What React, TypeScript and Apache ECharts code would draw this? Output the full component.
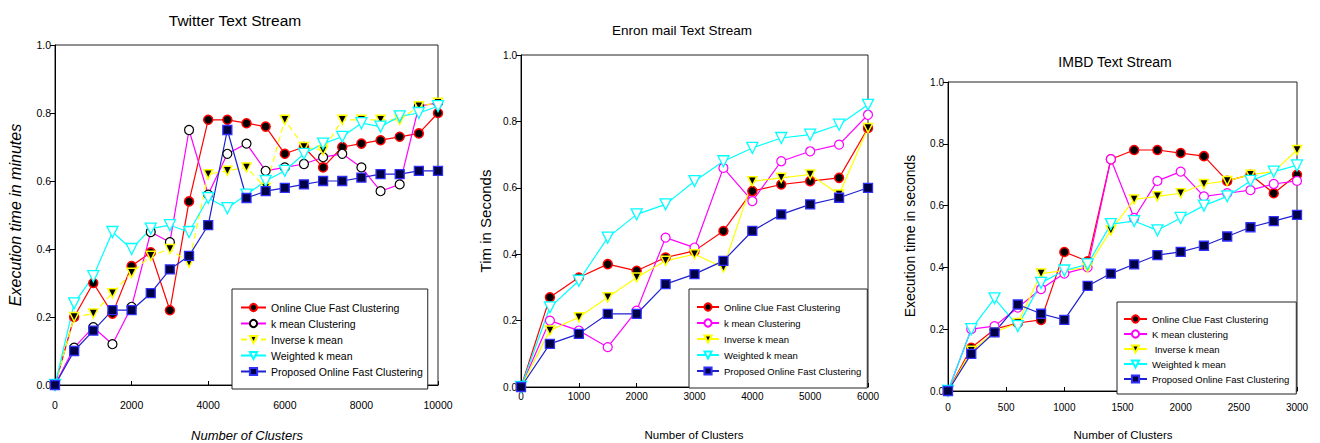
import React, { useEffect, useRef } from "react";
import * as echarts from "echarts";

// ---------- DATA ----------
const NAMES_A = [
  "Online Clue Fast Clustering",
  "k mean Clustering",
  "Inverse k mean",
  "Weighted k mean",
  "Proposed Online Fast Clustering",
];
const NAMES_C = [
  "Online Clue Fast Clustering",
  "K mean clustering",
  " Inverse k mean",
  "Weighted k mean",
  "Proposed Online Fast Clustering",
];

// Twitter
const twitterX = [0, 500, 1000, 1500, 2000, 2500, 3000, 3500, 4000, 4500, 5000, 5500, 6000, 6500, 7000, 7500, 8000, 8500, 9000, 9500, 10000];
const twitterOnlineClue = [0, 0.2, 0.3, 0.21, 0.35, 0.39, 0.22, 0.54, 0.78, 0.78, 0.77, 0.76, 0.68, 0.7, 0.64, 0.7, 0.71, 0.72, 0.73, 0.74, 0.8];
const twitterKMean = [0, 0.11, 0.17, 0.12, 0.23, 0.45, 0.42, 0.75, 0.56, 0.68, 0.71, 0.63, 0.64, 0.65, 0.67, 0.68, 0.64, 0.57, 0.59, 0.82, 0.83];
const twitterInverse = [0, 0.2, 0.21, 0.27, 0.33, 0.38, 0.4, 0.36, 0.62, 0.63, 0.64, 0.58, 0.78, 0.7, 0.69, 0.78, 0.78, 0.78, 0.78, 0.82, 0.83];
const twitterWeighted = [0, 0.24, 0.32, 0.45, 0.4, 0.46, 0.47, 0.45, 0.55, 0.52, 0.56, 0.6, 0.63, 0.68, 0.71, 0.73, 0.77, 0.76, 0.79, 0.8, 0.82];
const twitterProposed = [0, 0.1, 0.16, 0.22, 0.22, 0.27, 0.34, 0.38, 0.47, 0.75, 0.55, 0.57, 0.58, 0.59, 0.6, 0.6, 0.61, 0.62, 0.62, 0.63, 0.63];

// Enron
const enronX = [0, 500, 1000, 1500, 2000, 2500, 3000, 3500, 4000, 4500, 5000, 5500, 6000];
const enronOnlineClue = [0, 0.27, 0.33, 0.37, 0.35, 0.39, 0.41, 0.47, 0.59, 0.61, 0.62, 0.63, 0.78];
const enronKMean = [0, 0.2, 0.17, 0.12, 0.23, 0.45, 0.42, 0.66, 0.56, 0.68, 0.71, 0.73, 0.82];
const enronInverse = [0, 0.17, 0.21, 0.27, 0.33, 0.38, 0.4, 0.36, 0.62, 0.63, 0.64, 0.58, 0.78];
const enronWeighted = [0, 0.24, 0.32, 0.45, 0.52, 0.55, 0.62, 0.68, 0.72, 0.75, 0.76, 0.79, 0.85];
const enronProposed = [0, 0.13, 0.16, 0.22, 0.22, 0.31, 0.34, 0.38, 0.47, 0.52, 0.55, 0.57, 0.6];

// IMBD
const imbdX = [0, 200, 400, 600, 800, 1000, 1200, 1400, 1600, 1800, 2000, 2200, 2400, 2600, 2800, 3000];
const imbdOnlineClue = [0, 0.14, 0.2, 0.22, 0.23, 0.45, 0.42, 0.75, 0.78, 0.78, 0.77, 0.76, 0.68, 0.7, 0.64, 0.7];
const imbdKMean = [0, 0.2, 0.21, 0.27, 0.33, 0.38, 0.4, 0.75, 0.56, 0.68, 0.71, 0.63, 0.64, 0.65, 0.67, 0.68];
const imbdInverse = [0, 0.13, 0.19, 0.22, 0.38, 0.39, 0.4, 0.52, 0.62, 0.63, 0.64, 0.67, 0.68, 0.7, 0.71, 0.78];
const imbdWeighted = [0, 0.2, 0.3, 0.21, 0.35, 0.39, 0.41, 0.54, 0.55, 0.52, 0.56, 0.6, 0.63, 0.68, 0.71, 0.73];
const imbdProposed = [0, 0.12, 0.19, 0.28, 0.25, 0.23, 0.34, 0.38, 0.41, 0.44, 0.45, 0.47, 0.5, 0.53, 0.55, 0.57];

const SANS = "'Liberation Sans', Arial, Helvetica, sans-serif";

type Cfg = {
  left: number;
  width: number;
  title: string;
  titleX: number;
  titleY: number;
  titleSize: number;
  grid: { left: number; top: number; width: number; height: number };
  xMax: number;
  xInterval: number;
  xLabelMargin: number;
  tickFont: number;
  xName: string;
  xNameX: number;
  xNameY: number;
  xNameSize: number;
  yName: string;
  yNameX: number;
  yNameY: number;
  yNameSize: number;
  italic: boolean;
  names: string[];
  x: number[];
  ys: number[][];
  kMeanEdge: string;
  inverseDashed: boolean;
  legend: { left: number; top: number; padding: number[]; fontSize: number; lineHeight: number; itemGap: number; itemWidth: number };
};

function buildOption(c: Cfg): any {
  const pairs = (ys: number[]) => c.x.map((xv, i) => [xv, ys[i]]);
  const base = { type: "line", clip: false, showSymbol: true };
  const series = [
    {
      ...base,
      name: c.names[0],
      data: pairs(c.ys[0]),
      symbol: "circle",
      symbolSize: 9,
      itemStyle: { color: "#000000", borderColor: "#ff0000", borderWidth: 1.5 },
      lineStyle: { color: "#ff0000", width: 1.2 },
    },
    {
      ...base,
      name: c.names[1],
      data: pairs(c.ys[1]),
      symbol: "circle",
      symbolSize: 9,
      itemStyle: { color: "#ffffff", borderColor: c.kMeanEdge, borderWidth: 1.2 },
      lineStyle: { color: "#ff00ff", width: 1.2 },
    },
    {
      ...base,
      name: c.names[2],
      data: pairs(c.ys[2]),
      symbol: "triangle",
      symbolRotate: 180,
      symbolSize: 9,
      itemStyle: { color: "#000000", borderColor: "#ffff00", borderWidth: 1.5 },
      lineStyle: { color: "#ffff00", width: 1.2, type: c.inverseDashed ? [6, 4] : "solid" },
    },
    {
      ...base,
      name: c.names[3],
      data: pairs(c.ys[3]),
      symbol: "triangle",
      symbolRotate: 180,
      symbolSize: 11,
      itemStyle: { color: "#ffffff", borderColor: "#00ffff", borderWidth: 1.3 },
      lineStyle: { color: "#00ffff", width: 1.2 },
    },
    {
      ...base,
      name: c.names[4],
      data: pairs(c.ys[4]),
      symbol: "rect",
      symbolSize: 9,
      itemStyle: { color: "#000044", borderColor: "#3030ff", borderWidth: 1.3 },
      lineStyle: { color: "#2020d0", width: 1.2 },
    },
  ];

  const fontStyle = c.italic ? "italic" : "normal";

  return {
    animation: false,
    backgroundColor: "#ffffff",
    grid: {
      left: c.grid.left,
      top: c.grid.top,
      width: c.grid.width,
      height: c.grid.height,
      show: true,
      borderColor: "#222222",
      borderWidth: 1,
      backgroundColor: "transparent",
    },
    xAxis: {
      type: "value",
      min: 0,
      max: c.xMax,
      interval: c.xInterval,
      axisLine: { show: true, lineStyle: { color: "#000", width: 1 } },
      axisTick: { show: true, inside: true, length: 4, lineStyle: { color: "#000" } },
      splitLine: { show: false },
      axisLabel: {
        color: "#000",
        fontFamily: SANS,
        fontSize: c.tickFont,
        margin: c.xLabelMargin,
        formatter: (v: number) => String(v),
      },
    },
    yAxis: {
      type: "value",
      min: 0,
      max: 1,
      interval: 0.2,
      axisLine: { show: true, lineStyle: { color: "#000", width: 1 } },
      axisTick: { show: true, inside: false, length: 5, lineStyle: { color: "#000" } },
      splitLine: { show: false },
      axisLabel: {
        color: "#000",
        fontFamily: SANS,
        fontSize: c.tickFont,
        margin: 4,
        formatter: (v: number) => v.toFixed(1),
      },
    },
    legend: {
      orient: "vertical",
      left: c.legend.left,
      top: c.legend.top,
      padding: c.legend.padding,
      itemGap: c.legend.itemGap,
      itemWidth: c.legend.itemWidth,
      itemHeight: 9,
      backgroundColor: "#ffffff",
      borderColor: "#222222",
      borderWidth: 1,
      borderRadius: 0,
      selectedMode: false,
      textStyle: {
        color: "#000",
        fontFamily: SANS,
        fontSize: c.legend.fontSize,
        lineHeight: c.legend.lineHeight,
      },
      data: c.names,
      z: 10,
    },
    graphic: [
      {
        type: "text",
        x: c.titleX,
        y: c.titleY,
        style: {
          text: c.title,
          fill: "#000",
          font: `normal ${c.titleSize}px ${SANS}`,
          textAlign: "center",
          textVerticalAlign: "middle",
        },
      },
      {
        type: "text",
        x: c.xNameX,
        y: c.xNameY,
        style: {
          text: c.xName,
          fill: "#000",
          font: `${fontStyle} ${c.xNameSize}px ${SANS}`,
          textAlign: "center",
          textVerticalAlign: "middle",
        },
      },
      {
        type: "text",
        x: c.yNameX,
        y: c.yNameY,
        rotation: Math.PI / 2,
        style: {
          text: c.yName,
          fill: "#000",
          font: `${fontStyle} ${c.yNameSize}px ${SANS}`,
          textAlign: "center",
          textVerticalAlign: "middle",
        },
      },
    ],
    series,
  };
}

const CONFIGS: Cfg[] = [
  {
    left: 0,
    width: 460,
    title: "Twitter Text Stream",
    titleX: 235,
    titleY: 20,
    titleSize: 15.5,
    grid: { left: 55, top: 45, width: 383, height: 340 },
    xMax: 10000,
    xInterval: 2000,
    xLabelMargin: 14,
    tickFont: 10.5,
    xName: "Number of Clusters",
    xNameX: 247,
    xNameY: 435,
    xNameSize: 13,
    yName: "Execution time in minutes",
    yNameX: 15,
    yNameY: 215,
    yNameSize: 16,
    italic: true,
    names: NAMES_A,
    x: twitterX,
    ys: [twitterOnlineClue, twitterKMean, twitterInverse, twitterWeighted, twitterProposed],
    kMeanEdge: "#000000",
    inverseDashed: true,
    legend: { left: 232, top: 289, padding: [12, 5, 11, 8], fontSize: 10.5, lineHeight: 13, itemGap: 3, itemWidth: 25 },
  },
  {
    left: 460,
    width: 430,
    title: "Enron mail Text Stream",
    titleX: 222,
    titleY: 30,
    titleSize: 13.5,
    grid: { left: 61, top: 55, width: 347, height: 332 },
    xMax: 6000,
    xInterval: 1000,
    xLabelMargin: 4,
    tickFont: 10,
    xName: "Number of Clusters",
    xNameX: 234,
    xNameY: 435,
    xNameSize: 11.5,
    yName: "Tim in Seconds",
    yNameX: 25,
    yNameY: 221,
    yNameSize: 15,
    italic: false,
    names: NAMES_A,
    x: enronX,
    ys: [enronOnlineClue, enronKMean, enronInverse, enronWeighted, enronProposed],
    kMeanEdge: "#ff00ff",
    inverseDashed: false,
    legend: { left: 229, top: 289, padding: [12, 6, 11, 7], fontSize: 9.5, lineHeight: 12, itemGap: 4, itemWidth: 22 },
  },
  {
    left: 890,
    width: 430,
    title: "IMBD Text Stream",
    titleX: 225,
    titleY: 62,
    titleSize: 14,
    grid: { left: 58, top: 82, width: 349, height: 309 },
    xMax: 3000,
    xInterval: 500,
    xLabelMargin: 11,
    tickFont: 10,
    xName: "Number of Clusters",
    xNameX: 233,
    xNameY: 435,
    xNameSize: 11.5,
    yName: "Execution time in seconds",
    yNameX: 20,
    yNameY: 236,
    yNameSize: 14,
    italic: false,
    names: NAMES_C,
    x: imbdX,
    ys: [imbdOnlineClue, imbdKMean, imbdInverse, imbdWeighted, imbdProposed],
    kMeanEdge: "#ff00ff",
    inverseDashed: false,
    legend: { left: 227, top: 302, padding: [11, 7, 9, 6], fontSize: 9.5, lineHeight: 12, itemGap: 3, itemWidth: 23 },
  },
];

function ChartPanel({ cfg }: { cfg: Cfg }) {
  const ref = useRef<HTMLDivElement>(null);
  useEffect(() => {
    if (!ref.current) return;
    const chart = echarts.init(ref.current, undefined, { renderer: "svg" });
    chart.setOption(buildOption(cfg));
    return () => chart.dispose();
  }, [cfg]);
  return (
    <div
      ref={ref}
      style={{ position: "absolute", left: cfg.left, top: 0, width: cfg.width, height: 443 }}
    />
  );
}

export default function App() {
  return (
    <div
      style={{
        position: "absolute",
        left: 0,
        top: 0,
        width: 1320,
        height: 443,
        background: "#ffffff",
        overflow: "hidden",
      }}
    >
      {CONFIGS.map((c, i) => (
        <ChartPanel key={i} cfg={c} />
      ))}
    </div>
  );
}
